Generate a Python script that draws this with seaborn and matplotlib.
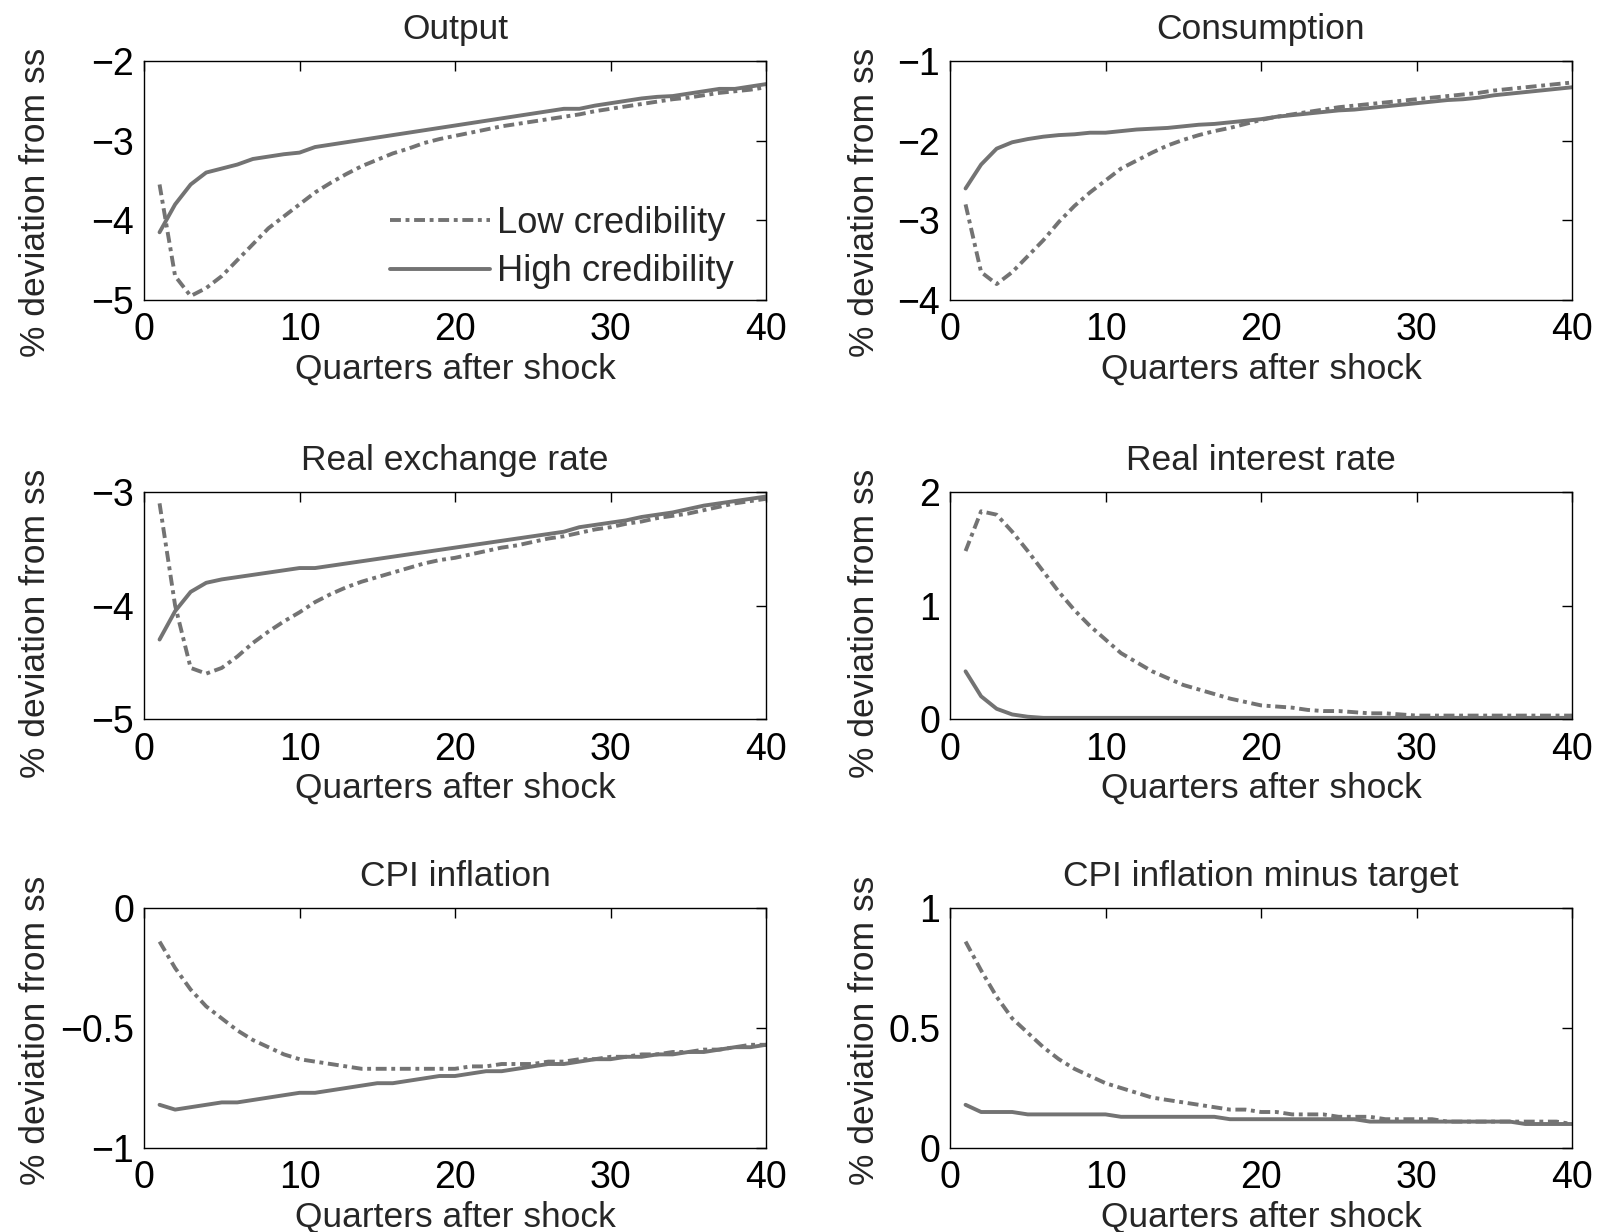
import numpy as np
import pandas as pd
import matplotlib
matplotlib.use("Agg")
import matplotlib.pyplot as plt
import seaborn as sns

sns.set_style("white")
plt.rcParams["font.family"] = ["Liberation Sans", "DejaVu Sans"]

quarters = list(range(1, 41))

output_low = [-3.55, -4.70, -4.95, -4.85, -4.70, -4.50, -4.30, -4.10, -3.95, -3.80,
              -3.65, -3.53, -3.42, -3.32, -3.24, -3.16, -3.10, -3.03, -2.98, -2.94,
              -2.90, -2.86, -2.82, -2.79, -2.76, -2.73, -2.70, -2.67, -2.63, -2.60,
              -2.57, -2.54, -2.51, -2.48, -2.46, -2.43, -2.40, -2.38, -2.36, -2.33]
output_high = [-4.15, -3.80, -3.55, -3.40, -3.35, -3.30, -3.23, -3.20, -3.17, -3.15,
               -3.08, -3.05, -3.02, -2.99, -2.96, -2.93, -2.90, -2.87, -2.84, -2.81,
               -2.78, -2.75, -2.72, -2.69, -2.66, -2.63, -2.60, -2.60, -2.56, -2.53,
               -2.50, -2.47, -2.45, -2.44, -2.41, -2.38, -2.35, -2.35, -2.32, -2.29]

cons_low = [-2.80, -3.65, -3.80, -3.65, -3.45, -3.25, -3.02, -2.82, -2.65, -2.50,
            -2.35, -2.25, -2.15, -2.06, -1.99, -1.93, -1.88, -1.84, -1.79, -1.74,
            -1.70, -1.67, -1.64, -1.61, -1.58, -1.56, -1.54, -1.52, -1.50, -1.48,
            -1.46, -1.44, -1.42, -1.40, -1.37, -1.35, -1.33, -1.31, -1.29, -1.27]
cons_high = [-2.60, -2.30, -2.10, -2.02, -1.98, -1.95, -1.93, -1.92, -1.90, -1.90,
             -1.88, -1.86, -1.85, -1.84, -1.82, -1.80, -1.79, -1.77, -1.75, -1.73,
             -1.70, -1.68, -1.66, -1.64, -1.62, -1.61, -1.59, -1.57, -1.55, -1.53,
             -1.51, -1.49, -1.48, -1.46, -1.43, -1.41, -1.39, -1.37, -1.35, -1.33]

rer_low = [-3.10, -4.00, -4.55, -4.60, -4.55, -4.45, -4.33, -4.23, -4.14, -4.06,
           -3.97, -3.90, -3.84, -3.79, -3.75, -3.71, -3.67, -3.63, -3.60, -3.58,
           -3.55, -3.52, -3.49, -3.47, -3.44, -3.41, -3.39, -3.36, -3.33, -3.31,
           -3.28, -3.26, -3.23, -3.21, -3.19, -3.16, -3.13, -3.10, -3.08, -3.06]
rer_high = [-4.30, -4.05, -3.88, -3.80, -3.77, -3.75, -3.73, -3.71, -3.69, -3.67,
            -3.67, -3.65, -3.63, -3.61, -3.59, -3.57, -3.55, -3.53, -3.51, -3.49,
            -3.47, -3.45, -3.43, -3.41, -3.39, -3.37, -3.35, -3.31, -3.29, -3.27,
            -3.25, -3.22, -3.20, -3.18, -3.15, -3.12, -3.10, -3.08, -3.06, -3.04]

rir_low = [1.48, 1.83, 1.80, 1.65, 1.48, 1.30, 1.12, 0.96, 0.82, 0.70,
           0.58, 0.50, 0.42, 0.36, 0.30, 0.26, 0.22, 0.18, 0.15, 0.12,
           0.11, 0.10, 0.08, 0.07, 0.07, 0.06, 0.05, 0.05, 0.04, 0.03,
           0.03, 0.03, 0.03, 0.03, 0.03, 0.03, 0.03, 0.03, 0.03, 0.03]
rir_high = [0.42, 0.20, 0.09, 0.04, 0.02, 0.01, 0.01, 0.01, 0.01, 0.01,
            0.01, 0.01, 0.01, 0.01, 0.01, 0.01, 0.01, 0.01, 0.01, 0.01,
            0.01, 0.01, 0.01, 0.01, 0.01, 0.01, 0.01, 0.01, 0.01, 0.01,
            0.01, 0.01, 0.01, 0.01, 0.01, 0.01, 0.01, 0.01, 0.01, 0.01]

cpi_low = [-0.14, -0.25, -0.34, -0.41, -0.46, -0.51, -0.55, -0.58, -0.61, -0.63,
           -0.64, -0.65, -0.66, -0.67, -0.67, -0.67, -0.67, -0.67, -0.67, -0.67,
           -0.66, -0.66, -0.65, -0.65, -0.65, -0.64, -0.64, -0.63, -0.63, -0.62,
           -0.62, -0.61, -0.61, -0.60, -0.60, -0.59, -0.59, -0.58, -0.57, -0.57]
cpi_high = [-0.82, -0.84, -0.83, -0.82, -0.81, -0.81, -0.80, -0.79, -0.78, -0.77,
            -0.77, -0.76, -0.75, -0.74, -0.73, -0.73, -0.72, -0.71, -0.70, -0.70,
            -0.69, -0.68, -0.68, -0.67, -0.66, -0.65, -0.65, -0.64, -0.63, -0.63,
            -0.62, -0.62, -0.61, -0.61, -0.60, -0.60, -0.59, -0.58, -0.58, -0.57]

gap_low = [0.86, 0.74, 0.63, 0.54, 0.48, 0.42, 0.37, 0.33, 0.30, 0.27,
           0.25, 0.23, 0.21, 0.20, 0.19, 0.18, 0.17, 0.16, 0.16, 0.15,
           0.15, 0.14, 0.14, 0.14, 0.13, 0.13, 0.13, 0.12, 0.12, 0.12,
           0.12, 0.11, 0.11, 0.11, 0.11, 0.11, 0.11, 0.11, 0.11, 0.10]
gap_high = [0.18, 0.15, 0.15, 0.15, 0.14, 0.14, 0.14, 0.14, 0.14, 0.14,
            0.13, 0.13, 0.13, 0.13, 0.13, 0.13, 0.13, 0.12, 0.12, 0.12,
            0.12, 0.12, 0.12, 0.12, 0.12, 0.12, 0.11, 0.11, 0.11, 0.11,
            0.11, 0.11, 0.11, 0.11, 0.11, 0.11, 0.10, 0.10, 0.10, 0.10]

titles = ["Output", "Consumption", "Real exchange rate", "Real interest rate",
          "CPI inflation", "CPI inflation minus target"]
lows = [output_low, cons_low, rer_low, rir_low, cpi_low, gap_low]
highs = [output_high, cons_high, rer_high, rir_high, cpi_high, gap_high]
ylims = [(-5, -2), (-4, -1), (-5, -3), (0, 2), (-1, 0), (0, 1)]
yticks = [[-5, -4, -3, -2], [-4, -3, -2, -1], [-5, -4, -3], [0, 1, 2],
          [-1, -0.5, 0], [0, 0.5, 1]]
ytick_labels = [["\u22125", "\u22124", "\u22123", "\u22122"],
                ["\u22124", "\u22123", "\u22122", "\u22121"],
                ["\u22125", "\u22124", "\u22123"],
                ["0", "1", "2"],
                ["\u22121", "\u22120.5", "0"],
                ["0", "0.5", "1"]]

# axes boxes in pixels (left, top, right, bottom) of a 1598x1232 figure
W, H = 1598, 1232
cols = [(144, 766), (950, 1572)]
rows = [(61, 300), (492, 719), (908, 1148)]
label_y = [0.41, 0.42, 0.49]
label_x = [-0.148, -0.111]

fig = plt.figure(figsize=(W / 100, H / 100), dpi=100)
grey = "#737373"
fs = 25.5
dashdot = (0, (2.8, 1.2, 1.0, 1.2))

for i in range(6):
    r, c = divmod(i, 2)
    x0, x1 = cols[c]
    t, b = rows[r]
    ax = fig.add_axes([x0 / W, 1 - b / H, (x1 - x0) / W, (b - t) / H])
    sns.lineplot(x=quarters, y=lows[i], ax=ax, color=grey, lw=2.8,
                 linestyle=dashdot, label="Low credibility")
    sns.lineplot(x=quarters, y=highs[i], ax=ax, color=grey, lw=2.8,
                 linestyle="-", label="High credibility")
    ax.set_xlim(0, 40)
    ax.set_ylim(*ylims[i])
    ax.set_xticks([0, 10, 20, 30, 40])
    ax.set_xticklabels(["0", "10", "20", "30", "40"])
    ax.set_yticks(yticks[i])
    ax.set_yticklabels(ytick_labels[i])
    ax.tick_params(direction="in", top=True, right=True, length=7, width=1,
                   labelsize=27, colors="black")
    ax.tick_params(axis="x", pad=9)
    ax.tick_params(axis="y", pad=7)
    for s in ax.spines.values():
        s.set_color("black")
        s.set_linewidth(1.0)
    ax.set_title(titles[i], fontsize=fs, pad=16)
    ax.set_xlabel("Quarters after shock", fontsize=fs, labelpad=3)
    ax.set_ylabel("% deviation from ss", fontsize=fs)
    ax.yaxis.set_label_coords(label_x[c], label_y[r])
    if i == 0:
        ax.legend(loc="upper left", bbox_to_anchor=(0.395, 0.395), frameon=False,
                  fontsize=26.2, handlelength=2.75, handletextpad=0.2,
                  labelspacing=0.38, borderpad=0, borderaxespad=0)
    else:
        ax.get_legend().remove()

fig.savefig("out.png", dpi=100)
